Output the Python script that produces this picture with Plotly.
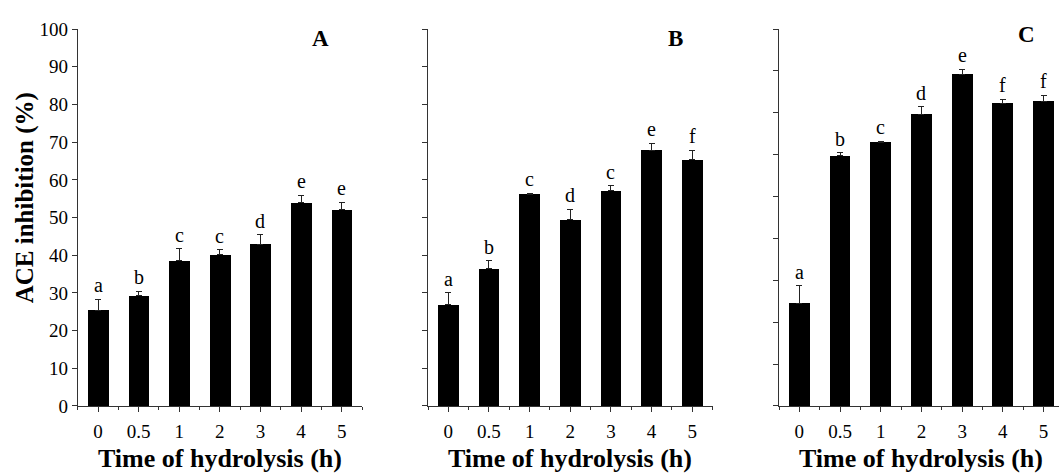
import plotly.graph_objects as go

categories = ["0", "0.5", "1", "2", "3", "4", "5"]
values_A = [25.4, 29.2, 38.5, 40.1, 42.9, 53.9, 52.1]
errors_A = [2.9, 1.2, 3.2, 1.4, 2.5, 2.0, 1.9]
letters_A = ["a", "b", "c", "c", "d", "e", "e"]
values_B = [26.8, 36.4, 56.1, 49.4, 57.1, 67.8, 65.3]
errors_B = [3.2, 2.1, 0.4, 2.8, 1.3, 1.9, 2.5]
letters_B = ["a", "b", "c", "d", "c", "e", "f"]
values_C = [24.5, 59.7, 62.9, 69.7, 79.2, 72.3, 72.8]
errors_C = [4.2, 0.8, 0.3, 1.7, 1.2, 0.9, 1.4]
letters_C = ["a", "b", "c", "d", "e", "f", "f"]
panel_labels = ["A", "B", "C"]
y_ranges = [[0, 100], [0, 100], [0, 90]]
y_ticklabels_shown = [True, False, False]

W, H = 1059, 474
FONT = "Liberation Serif"
pos = list(range(len(categories)))

panels = [(values_A, errors_A, letters_A), (values_B, errors_B, letters_B), (values_C, errors_C, letters_C)]
x_domains = [[77.7 / W, 362 / W], [428 / W, 712.6 / W], [779 / W, 1.0]]
x_ranges = [[-0.5, 6.5], [-0.5, 6.5], [-0.5, 6.38]]
y_domain = [1 - 414.3 / H, 1 - 20 / H]
label_pos = [(320, 30), (675, 30), (1026, 26)]

fig = go.Figure()
annotations = []
for i, (vals, errs, lets) in enumerate(panels):
    n = "" if i == 0 else str(i + 1)
    fig.add_trace(go.Bar(
        x=pos, y=vals, width=0.51,
        marker=dict(color="black", line=dict(width=0)),
        error_y=dict(type="data", array=errs, symmetric=False, arrayminus=[0] * len(errs),
                     visible=True, color="#222222", thickness=1, width=3),
        xaxis="x" + n, yaxis="y" + n, showlegend=False,
    ))
    for p, v, e, l in zip(pos, vals, errs, lets):
        annotations.append(dict(x=p, y=v + e, xref="x" + n, yref="y" + n, text=l,
                                showarrow=False, yanchor="bottom", yshift=1,
                                font=dict(family=FONT, size=20, color="black")))
    annotations.append(dict(x=3, y=1 - 469 / H, xref="x" + n, yref="paper",
                            text="<b>Time of hydrolysis (h)</b>", showarrow=False,
                            yanchor="middle", xanchor="center",
                            font=dict(family=FONT, size=26, color="black")))
    lx, ly = label_pos[i]
    annotations.append(dict(x=lx / W, y=1 - ly / H, xref="paper", yref="paper",
                            text="<b>" + panel_labels[i] + "</b>", showarrow=False,
                            xanchor="center", yanchor="middle",
                            font=dict(family=FONT, size=23, color="black")))
    xa = dict(domain=x_domains[i], range=x_ranges[i], anchor="y" + n,
              tickmode="array", tickvals=pos, ticktext=categories,
              ticks="outside", ticklen=5, tickwidth=1, tickcolor="#333333",
              ticklabelstandoff=3,
              showline=True, linecolor="#333333", linewidth=1,
              showgrid=False, zeroline=False,
              tickfont=dict(family=FONT, size=19, color="black"),
              minor=dict(tickmode="array", tickvals=[p + 0.5 for p in [-1] + pos],
                         ticks="outside", ticklen=3, tickcolor="#333333", showgrid=False))
    ya = dict(domain=y_domain, range=y_ranges[i], anchor="x" + n,
              tickmode="linear", tick0=0, dtick=10,
              ticks="outside", ticklen=5, tickwidth=1, tickcolor="#333333",
              showline=True, linecolor="#333333", linewidth=1,
              showgrid=False, zeroline=False, showticklabels=y_ticklabels_shown[i],
              tickfont=dict(family=FONT, size=19, color="black"))
    fig.update_layout(**{"xaxis" + n: xa, "yaxis" + n: ya})

annotations.append(dict(x=25 / W, y=1 - 197 / H, xref="paper", yref="paper",
                        text="<b>ACE inhibition (%)</b>", showarrow=False, textangle=-90,
                        xanchor="center", yanchor="middle",
                        font=dict(family=FONT, size=25, color="black")))

fig.update_layout(width=W, height=H, margin=dict(l=0, r=0, t=0, b=0),
                  paper_bgcolor="white", plot_bgcolor="white",
                  font=dict(family=FONT, color="black"),
                  annotations=annotations, bargap=0)
fig.write_html("out.html")
